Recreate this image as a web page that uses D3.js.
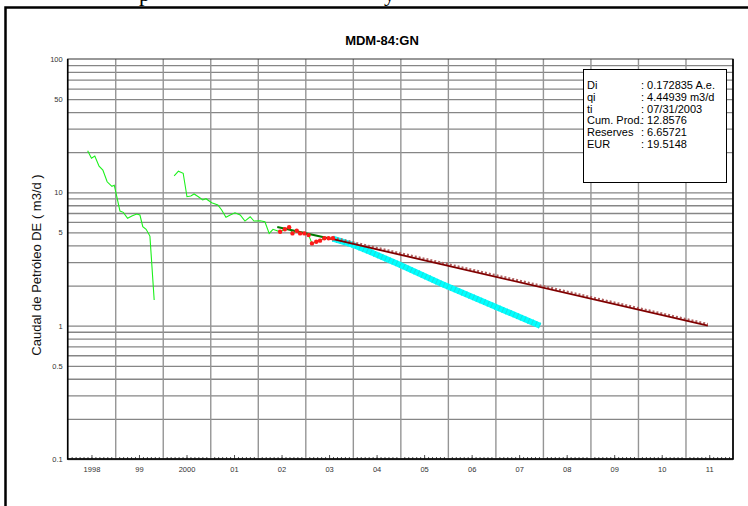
<!DOCTYPE html>
<html>
<head>
<meta charset="utf-8">
<script src="https://cdn.jsdelivr.net/npm/d3@7"></script>
<style>
  body { margin: 0; background: #fff; }
  text { font-family: "Liberation Sans", Arial, sans-serif; }
</style>
</head>
<body>
<script>
const width = 748, height = 506;

// axis labels
const yearLabels = ["1998", "99", "2000", "01", "02", "03", "04", "05", "06", "07", "08", "09", "10", "11"];
const yTicks = [100, 50, 10, 5, 1, 0.5, 0.1];

// historical oil rate, first period (decimal year, m3/d)
const histA_t = [1998.42, 1998.50, 1998.57, 1998.66, 1998.74, 1998.83, 1998.93, 1998.98, 1999.10, 1999.17,
                 1999.26, 1999.35, 1999.45, 1999.52, 1999.58, 1999.65, 1999.73, 1999.82];
const histA_q = [20.5, 18.0, 18.7, 15.7, 14.7, 12.0, 11.1, 11.3, 7.24, 7.08,
                 6.38, 6.64, 6.88, 6.76, 5.52, 5.28, 4.70, 1.56];

// historical oil rate, second period
const histB_t = [2000.24, 2000.33, 2000.43, 2000.51, 2000.59, 2000.66, 2000.75, 2000.84, 2000.91, 2001.03,
                 2001.16, 2001.24, 2001.33, 2001.42, 2001.52, 2001.63, 2001.73, 2001.84, 2001.92, 2002.05,
                 2002.15, 2002.24, 2002.32, 2002.47, 2002.57, 2002.66, 2002.73, 2002.82, 2002.89, 2002.98,
                 2003.07, 2003.14, 2003.23, 2003.31, 2003.40, 2003.49, 2003.58];
const histB_q = [13.3, 14.4, 13.9, 9.27, 9.39, 9.72, 9.27, 8.76, 8.96, 8.36,
                 8.04, 7.37, 6.50, 6.76, 7.03, 6.76, 6.09, 6.56, 6.09, 6.12,
                 6.02, 4.92, 5.28, 5.06, 5.28, 5.47, 4.92, 5.15, 4.92, 4.92,
                 4.78, 4.14, 4.26, 4.34, 4.52, 4.52, 4.52];

// points used for the decline fit
const fit_t = [2002.47, 2002.57, 2002.66, 2002.73, 2002.82, 2002.89, 2002.98, 2003.07, 2003.14, 2003.23,
               2003.31, 2003.40, 2003.49, 2003.58];
const fit_q = [5.06, 5.28, 5.47, 4.92, 5.15, 4.92, 4.92, 4.78, 4.14, 4.26,
               4.34, 4.52, 4.52, 4.52];

// fitted line over the selection
const fitLine_t = [2002.41, 2003.58];
const fitLine_q = [5.50, 4.45];

// exponential forecast (dark red)
const fcst_t = [2003.58, 2011.47];
const fcst_q = [4.45, 1.0];

// alternative forecast (cyan)
const alt_t = [2003.58, 2004.01, 2004.36, 2005.00, 2005.84, 2006.89, 2007.94];
const alt_q = [4.50, 4.03, 3.58, 2.85, 2.08, 1.44, 1.0];

// results box
const boxLabels = ["Di", "qi", "ti", "Cum. Prod.", "Reserves", "EUR"];
const boxValues = [": 0.172835 A.e.", ": 4.44939 m3/d", ": 07/31/2003", ": 12.8576", ": 6.65721", ": 19.5148"];

const svg = d3.select("body").append("svg")
  .attr("width", width)
  .attr("height", height)
  .style("display", "block");

svg.append("rect").attr("width", width).attr("height", height).attr("fill", "#fff");

// bits of the document text cut off above the frame
svg.append("text").attr("x", 139).attr("y", 1)
  .style("font-family", "'Liberation Serif', serif").style("font-size", "22px").text("p");
svg.append("text").attr("x", 384).attr("y", 1)
  .style("font-family", "'Liberation Serif', serif").style("font-size", "22px").text("y");

// outer frame
svg.append("rect")
  .attr("x", 5.5).attr("y", 7.5)
  .attr("width", 800).attr("height", 600)
  .attr("fill", "none").attr("stroke", "#000").attr("stroke-width", 2.5);

const x = d3.scaleLinear().domain([1998, 2012]).range([67.7, 733]);
const y = d3.scaleLog().domain([0.1, 100]).range([459, 59]);

// horizontal grid
const yGrid = d3.range(-1, 2).flatMap(e => d3.range(1, 10).map(k => k * Math.pow(10, e)));
svg.append("g")
  .attr("transform", `translate(${x.range()[0]},0)`)
  .call(d3.axisLeft(y).tickValues(yGrid).tickSize(-(x.range()[1] - x.range()[0])).tickFormat(""))
  .call(g => g.select(".domain").remove())
  .call(g => g.selectAll("line").attr("stroke", "#868686").attr("stroke-width", 1.3));

// vertical grid at year boundaries
svg.append("g")
  .attr("transform", `translate(0,${y.range()[0]})`)
  .call(d3.axisBottom(x).tickValues(d3.range(1999, 2012)).tickSize(-(y.range()[0] - y.range()[1])).tickFormat(""))
  .call(g => g.select(".domain").remove())
  .call(g => g.selectAll("line").attr("stroke", "#959595").attr("stroke-width", 1.4));

// monthly ticks
const months = d3.range(1, 168).map(i => 1998 + i / 12).filter((d, i) => (i + 1) % 12 !== 0);
svg.append("g")
  .attr("transform", `translate(0,${y.range()[0]})`)
  .call(d3.axisBottom(x).tickValues(months).tickSize(-2).tickFormat(""))
  .call(g => g.select(".domain").remove())
  .call(g => g.selectAll("line").attr("stroke", "#555"));
svg.append("g")
  .attr("transform", `translate(0,${y.range()[0]})`)
  .call(d3.axisBottom(x).tickValues(d3.range(1998.5, 2012, 1)).tickSize(-4).tickFormat(""))
  .call(g => g.select(".domain").remove())
  .call(g => g.selectAll("line").attr("stroke", "#555"));

// plot border
svg.append("rect")
  .attr("x", x.range()[0]).attr("y", y.range()[1])
  .attr("width", x.range()[1] - x.range()[0]).attr("height", y.range()[0] - y.range()[1])
  .attr("fill", "none").attr("stroke", "#333").attr("stroke-width", 1);
svg.append("path")
  .attr("d", `M${x.range()[0]},${y.range()[1]}V${y.range()[0]}H${x.range()[1]}V${y.range()[1]}`)
  .attr("fill", "none").attr("stroke", "#000").attr("stroke-width", 1.6);

// x labels
svg.append("g")
  .attr("transform", `translate(0,${y.range()[0]})`)
  .call(d3.axisBottom(x).tickValues(yearLabels.map((d, i) => 1998.5 + i)).tickSize(0).tickPadding(8)
    .tickFormat((d, i) => yearLabels[i]))
  .call(g => g.select(".domain").remove())
  .call(g => g.selectAll("text").attr("fill", "#333").style("font-size", "7.5px")
    .style("font-family", "'Liberation Sans', Arial, sans-serif"));

// y labels
svg.append("g")
  .attr("transform", `translate(${x.range()[0]},0)`)
  .call(d3.axisLeft(y).tickValues(yTicks).tickSize(0).tickPadding(5).tickFormat(d3.format("~g")))
  .call(g => g.select(".domain").remove())
  .call(g => g.selectAll("text").attr("fill", "#333").style("font-size", "7.5px")
    .style("font-family", "'Liberation Sans', Arial, sans-serif"));

// title and axis title
svg.append("text")
  .attr("x", 382).attr("y", 45)
  .attr("text-anchor", "middle")
  .style("font-size", "13px").style("font-weight", "bold")
  .text("MDM-84:GN");

svg.append("text")
  .attr("transform", "translate(41,265) rotate(-90)")
  .attr("text-anchor", "middle")
  .style("font-size", "13px")
  .attr("fill", "#111")
  .text("Caudal de Petróleo DE ( m3/d )");

const line = d3.line().x(d => x(d[0])).y(d => y(d[1]));
const zip = (a, b) => a.map((d, i) => [d, b[i]]);

// cyan forecast
svg.append("path")
  .attr("d", line(zip(alt_t, alt_q)))
  .attr("fill", "none").attr("stroke", "#00ffff").attr("stroke-width", 6);
svg.append("path")
  .attr("d", line(zip(alt_t, alt_q)))
  .attr("fill", "none").attr("stroke", "#19dede").attr("stroke-width", 6)
  .attr("stroke-dasharray", "1,3");

// dark red forecast with triangle markers look
svg.append("path")
  .attr("d", line(zip(fcst_t, fcst_q)))
  .attr("transform", "translate(0,-1.6)")
  .attr("fill", "none").attr("stroke", "#b06060").attr("stroke-width", 2.2)
  .attr("stroke-dasharray", "2,2");
svg.append("path")
  .attr("d", line(zip(fcst_t, fcst_q)))
  .attr("fill", "none").attr("stroke", "#800000").attr("stroke-width", 1.8);

// historical
[zip(histA_t, histA_q), zip(histB_t, histB_q)].forEach(seg => {
  svg.append("path")
    .attr("d", line(seg))
    .attr("fill", "none").attr("stroke", "#1cf01c").attr("stroke-width", 1.1);
});

// fit line
svg.append("path")
  .attr("d", line(zip(fitLine_t, fitLine_q)))
  .attr("fill", "none").attr("stroke", "#007a00").attr("stroke-width", 2);

// fit points
svg.append("g").selectAll("circle")
  .data(zip(fit_t, fit_q))
  .join("circle")
  .attr("cx", d => x(d[0])).attr("cy", d => y(d[1]))
  .attr("r", 2.2).attr("fill", "#ff1a1a");

// results box
const box = svg.append("g");
box.append("rect")
  .attr("x", 583.5).attr("y", 69.5).attr("width", 143).attr("height", 113)
  .attr("fill", "#fff").attr("stroke", "#000").attr("stroke-width", 1);
box.selectAll(".lab")
  .data(boxLabels)
  .join("text")
  .attr("class", "lab")
  .attr("x", 587).attr("y", (d, i) => 89 + i * 11.8)
  .style("font-size", "11px")
  .text(d => d);
box.selectAll(".val")
  .data(boxValues)
  .join("text")
  .attr("class", "val")
  .attr("x", 641).attr("y", (d, i) => 89 + i * 11.8)
  .style("font-size", "11px")
  .text(d => d);
</script>
</body>
</html>
